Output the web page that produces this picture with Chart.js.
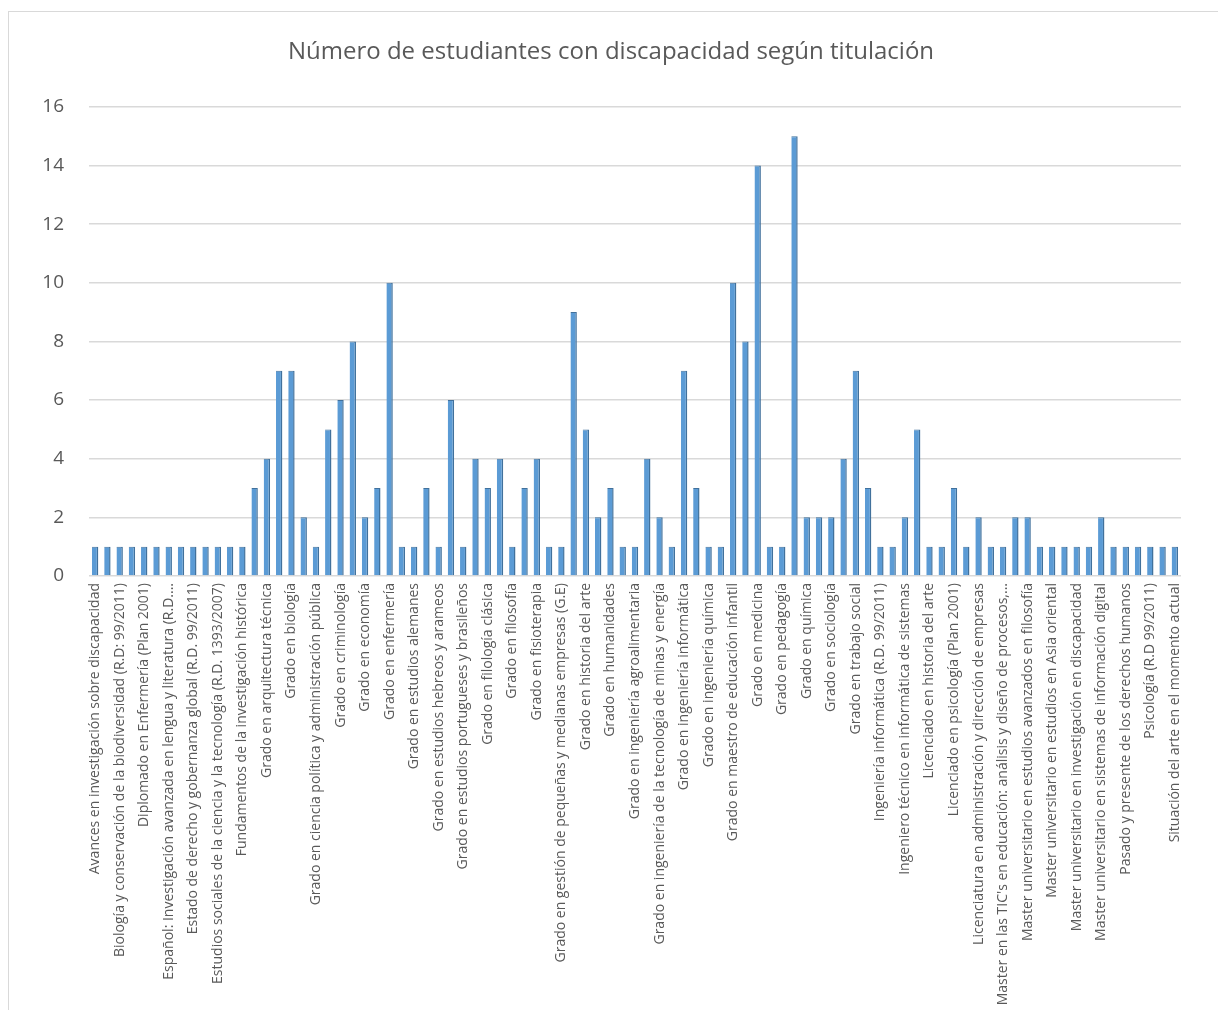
<!DOCTYPE html>
<html>
<head>
<meta charset="utf-8">
<script src="https://cdn.jsdelivr.net/npm/chart.js@4"></script>
<style>
  html, body { margin: 0; padding: 0; background: #fff; overflow: hidden; }
  #frame {
    position: absolute; left: 8px; top: 11px; width: 1300px; height: 1100px;
    border-left: 1px solid #d9d9d9; border-top: 1px solid #d9d9d9;
  }
  #wrap { position: absolute; left: 0; top: 0; width: 1218px; height: 1010px; }
</style>
</head>
<body>
<div id="frame"></div>
<div id="wrap"><canvas id="chart"></canvas></div>
<script>
// only every second category name is visible in the source chart; the hidden ones are left blank
const categories = [
  'Avances en investigación sobre discapacidad', '',
  'Biología y conservación de la biodiversidad (R.D: 99/2011)', '',
  'Diplomado en Enfermería (Plan 2001)', '',
  'Español: Investigación avanzada en lengua y literatura (R.D....', '',
  'Estado de derecho y gobernanza global (R.D. 99/2011)', '',
  'Estudios sociales de la ciencia y la tecnología (R.D. 1393/2007)', '',
  'Fundamentos de la investigación histórica', '',
  'Grado en arquitectura técnica', '',
  'Grado en biología', '',
  'Grado en ciencia política y administración pública', '',
  'Grado en criminología', '',
  'Grado en economía', '',
  'Grado en enfermería', '',
  'Grado en estudios alemanes', '',
  'Grado en estudios hebreos y arameos', '',
  'Grado en estudios portugueses y brasileños', '',
  'Grado en filología clásica', '',
  'Grado en filosofía', '',
  'Grado en fisioterapia', '',
  'Grado en gestión de pequeñas y medianas empresas (G.E)', '',
  'Grado en historia del arte', '',
  'Grado en humanidades', '',
  'Grado en ingeniería agroalimentaria', '',
  'Grado en ingeniería de la tecnología de minas y energía', '',
  'Grado en ingeniería informática', '',
  'Grado en ingeniería química', '',
  'Grado en maestro de educación infantil', '',
  'Grado en medicina', '',
  'Grado en pedagogía', '',
  'Grado en química', '',
  'Grado en sociología', '',
  'Grado en trabajo social', '',
  'Ingeniería informática (R.D. 99/2011)', '',
  'Ingeniero técnico en informática de sistemas', '',
  'Licenciado en historia del arte', '',
  'Licenciado en psicología (Plan 2001)', '',
  'Licenciatura en administración y dirección de empresas', '',
  'Master en las TIC\'s en educación: análisis y diseño de procesos,...', '',
  'Master universitario en estudios avanzados en filosofía', '',
  'Master universitario en estudios en Asia oriental', '',
  'Master universitario en investigación en discapacidad', '',
  'Master universitario en sistemas de información digital', '',
  'Pasado y presente de los derechos humanos', '',
  'Psicología (R.D 99/2011)', '',
  'Situación del arte en el momento actual'
];

const students = [
  1, 1, 1, 1, 1, 1, 1, 1, 1, 1,
  1, 1, 1, 3, 4, 7, 7, 2, 1, 5,
  6, 8, 2, 3, 10, 1, 1, 3, 1, 6,
  1, 4, 3, 4, 1, 3, 4, 1, 1, 9,
  5, 2, 3, 1, 1, 4, 2, 1, 7, 3,
  1, 1, 10, 8, 14, 1, 1, 15, 2, 2,
  2, 4, 7, 3, 1, 1, 2, 5, 1, 1,
  3, 1, 2, 1, 1, 2, 2, 1, 1, 1,
  1, 1, 2, 1, 1, 1, 1, 1, 1
];

const yTicks = [0, 2, 4, 6, 8, 10, 12, 14, 16];

const TEXT = '#595959';
const FONT = "'Open Sans', sans-serif";

new Chart(document.getElementById('chart'), {
  type: 'bar',
  data: {
    labels: categories,
    datasets: [{
      data: students,
      backgroundColor: '#5b9bd5',
      borderColor: '#41719c',
      borderWidth: { right: 1.5, top: 1, left: 0, bottom: 0 },
      borderSkipped: 'bottom',
      categoryPercentage: 1,
      barPercentage: 0.52,
    }],
  },
  options: {
    responsive: true,
    maintainAspectRatio: false,
    animation: false,
    // left padding pushes the title towards the frame centre; y labels must stay inside the axis box
    layout: { padding: { left: 41, right: 37, top: 0, bottom: 0 } },
    plugins: {
      legend: { display: false },
      tooltip: { enabled: false },
      title: {
        display: true,
        text: 'Número de estudiantes con discapacidad según titulación',
        color: TEXT,
        font: { family: FONT, size: 24, weight: 'normal' },
        padding: { top: 38, bottom: 40 },
      },
    },
    scales: {
      x: {
        grid: { display: false, drawTicks: false },
        border: { display: false },
        ticks: {
          autoSkip: false,
          minRotation: 90,
          maxRotation: 90,
          padding: 7,
          color: TEXT,
          font: { family: FONT, size: 14 },
        },
        afterFit(scale) { scale.height = 434; },
      },
      y: {
        min: 0,
        max: yTicks[yTicks.length - 1],
        afterBuildTicks(scale) { scale.ticks = yTicks.map(v => ({ value: v })); },
        grid: { color: '#d9d9d9', lineWidth: 1.5, drawTicks: false },
        border: { display: false },
        ticks: {
          padding: 25,
          color: TEXT,
          font: { family: FONT, size: 19 },
        },
        afterFit(scale) { scale.width = 48; },
      },
    },
  },
});
</script>
</body>
</html>
